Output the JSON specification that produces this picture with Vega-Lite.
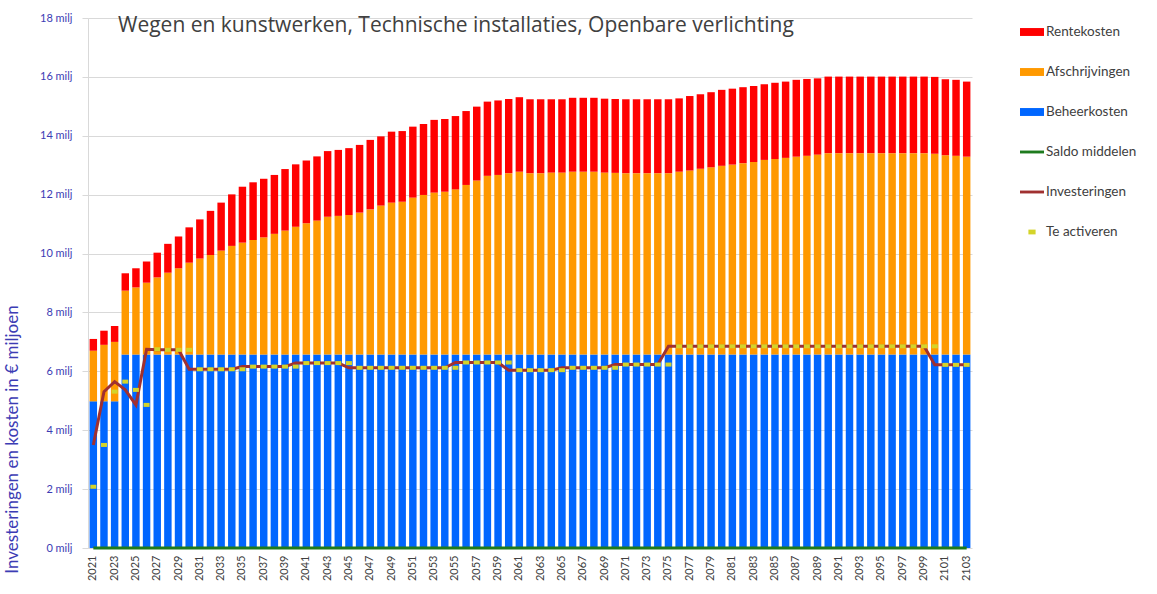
{
  "$schema": "https://vega.github.io/schema/vega-lite/v6.json",
  "width": 884,
  "height": 530,
  "autosize": {"type": "none"},
  "padding": {"left": 88, "top": 18, "right": 185, "bottom": 46},
  "background": "white",
  "config": {
    "font": "Lato",
    "view": {"stroke": null},
    "legend": {"symbolStrokeWidth": 0}
  },
  "title": {
    "text": "Wegen en kunstwerken, Technische installaties, Openbare verlichting",
    "anchor": "start",
    "frame": "group",
    "orient": "top",
    "offset": -24,
    "dx": 30,
    "font": "Open Sans",
    "fontSize": 21,
    "fontWeight": "normal",
    "color": "#404040"
  },
  "data": {
    "values": [
      {"year": 2021, "Beheerkosten": 4.98, "Afschrijvingen": 1.72, "Rentekosten": 0.40, "Investeringen": 3.50, "Te activeren": 2.08, "Saldo middelen": 0},
      {"year": 2022, "Beheerkosten": 4.98, "Afschrijvingen": 1.92, "Rentekosten": 0.48, "Investeringen": 5.31, "Te activeren": 3.50, "Saldo middelen": 0},
      {"year": 2023, "Beheerkosten": 4.98, "Afschrijvingen": 2.02, "Rentekosten": 0.54, "Investeringen": 5.65, "Te activeren": 5.31, "Saldo middelen": 0},
      {"year": 2024, "Beheerkosten": 6.57, "Afschrijvingen": 2.17, "Rentekosten": 0.59, "Investeringen": 5.37, "Te activeren": 5.65, "Saldo middelen": 0},
      {"year": 2025, "Beheerkosten": 6.57, "Afschrijvingen": 2.28, "Rentekosten": 0.65, "Investeringen": 4.86, "Te activeren": 5.37, "Saldo middelen": 0},
      {"year": 2026, "Beheerkosten": 6.57, "Afschrijvingen": 2.44, "Rentekosten": 0.72, "Investeringen": 6.75, "Te activeren": 4.86, "Saldo middelen": 0},
      {"year": 2027, "Beheerkosten": 6.57, "Afschrijvingen": 2.62, "Rentekosten": 0.84, "Investeringen": 6.73, "Te activeren": 6.75, "Saldo middelen": 0},
      {"year": 2028, "Beheerkosten": 6.57, "Afschrijvingen": 2.78, "Rentekosten": 0.98, "Investeringen": 6.73, "Te activeren": 6.73, "Saldo middelen": 0},
      {"year": 2029, "Beheerkosten": 6.57, "Afschrijvingen": 2.93, "Rentekosten": 1.08, "Investeringen": 6.73, "Te activeren": 6.73, "Saldo middelen": 0},
      {"year": 2030, "Beheerkosten": 6.57, "Afschrijvingen": 3.12, "Rentekosten": 1.20, "Investeringen": 6.07, "Te activeren": 6.73, "Saldo middelen": 0},
      {"year": 2031, "Beheerkosten": 6.57, "Afschrijvingen": 3.26, "Rentekosten": 1.33, "Investeringen": 6.07, "Te activeren": 6.07, "Saldo middelen": 0},
      {"year": 2032, "Beheerkosten": 6.57, "Afschrijvingen": 3.38, "Rentekosten": 1.50, "Investeringen": 6.07, "Te activeren": 6.07, "Saldo middelen": 0},
      {"year": 2033, "Beheerkosten": 6.57, "Afschrijvingen": 3.53, "Rentekosten": 1.63, "Investeringen": 6.07, "Te activeren": 6.07, "Saldo middelen": 0},
      {"year": 2034, "Beheerkosten": 6.57, "Afschrijvingen": 3.69, "Rentekosten": 1.75, "Investeringen": 6.07, "Te activeren": 6.07, "Saldo middelen": 0},
      {"year": 2035, "Beheerkosten": 6.57, "Afschrijvingen": 3.80, "Rentekosten": 1.90, "Investeringen": 6.16, "Te activeren": 6.07, "Saldo middelen": 0},
      {"year": 2036, "Beheerkosten": 6.57, "Afschrijvingen": 3.89, "Rentekosten": 1.96, "Investeringen": 6.16, "Te activeren": 6.16, "Saldo middelen": 0},
      {"year": 2037, "Beheerkosten": 6.57, "Afschrijvingen": 3.98, "Rentekosten": 1.99, "Investeringen": 6.16, "Te activeren": 6.16, "Saldo middelen": 0},
      {"year": 2038, "Beheerkosten": 6.57, "Afschrijvingen": 4.10, "Rentekosten": 2.00, "Investeringen": 6.16, "Te activeren": 6.16, "Saldo middelen": 0},
      {"year": 2039, "Beheerkosten": 6.57, "Afschrijvingen": 4.21, "Rentekosten": 2.09, "Investeringen": 6.16, "Te activeren": 6.16, "Saldo middelen": 0},
      {"year": 2040, "Beheerkosten": 6.57, "Afschrijvingen": 4.34, "Rentekosten": 2.12, "Investeringen": 6.28, "Te activeren": 6.16, "Saldo middelen": 0},
      {"year": 2041, "Beheerkosten": 6.57, "Afschrijvingen": 4.46, "Rentekosten": 2.13, "Investeringen": 6.28, "Te activeren": 6.28, "Saldo middelen": 0},
      {"year": 2042, "Beheerkosten": 6.57, "Afschrijvingen": 4.55, "Rentekosten": 2.18, "Investeringen": 6.28, "Te activeren": 6.28, "Saldo middelen": 0},
      {"year": 2043, "Beheerkosten": 6.57, "Afschrijvingen": 4.68, "Rentekosten": 2.23, "Investeringen": 6.28, "Te activeren": 6.28, "Saldo middelen": 0},
      {"year": 2044, "Beheerkosten": 6.57, "Afschrijvingen": 4.71, "Rentekosten": 2.24, "Investeringen": 6.28, "Te activeren": 6.28, "Saldo middelen": 0},
      {"year": 2045, "Beheerkosten": 6.57, "Afschrijvingen": 4.74, "Rentekosten": 2.27, "Investeringen": 6.12, "Te activeren": 6.28, "Saldo middelen": 0},
      {"year": 2046, "Beheerkosten": 6.57, "Afschrijvingen": 4.82, "Rentekosten": 2.30, "Investeringen": 6.12, "Te activeren": 6.12, "Saldo middelen": 0},
      {"year": 2047, "Beheerkosten": 6.57, "Afschrijvingen": 4.93, "Rentekosten": 2.36, "Investeringen": 6.12, "Te activeren": 6.12, "Saldo middelen": 0},
      {"year": 2048, "Beheerkosten": 6.57, "Afschrijvingen": 5.06, "Rentekosten": 2.35, "Investeringen": 6.12, "Te activeren": 6.12, "Saldo middelen": 0},
      {"year": 2049, "Beheerkosten": 6.57, "Afschrijvingen": 5.16, "Rentekosten": 2.41, "Investeringen": 6.12, "Te activeren": 6.12, "Saldo middelen": 0},
      {"year": 2050, "Beheerkosten": 6.57, "Afschrijvingen": 5.19, "Rentekosten": 2.40, "Investeringen": 6.12, "Te activeren": 6.12, "Saldo middelen": 0},
      {"year": 2051, "Beheerkosten": 6.57, "Afschrijvingen": 5.33, "Rentekosten": 2.41, "Investeringen": 6.12, "Te activeren": 6.12, "Saldo middelen": 0},
      {"year": 2052, "Beheerkosten": 6.57, "Afschrijvingen": 5.42, "Rentekosten": 2.41, "Investeringen": 6.12, "Te activeren": 6.12, "Saldo middelen": 0},
      {"year": 2053, "Beheerkosten": 6.57, "Afschrijvingen": 5.50, "Rentekosten": 2.47, "Investeringen": 6.12, "Te activeren": 6.12, "Saldo middelen": 0},
      {"year": 2054, "Beheerkosten": 6.57, "Afschrijvingen": 5.53, "Rentekosten": 2.47, "Investeringen": 6.12, "Te activeren": 6.12, "Saldo middelen": 0},
      {"year": 2055, "Beheerkosten": 6.57, "Afschrijvingen": 5.61, "Rentekosten": 2.49, "Investeringen": 6.30, "Te activeren": 6.12, "Saldo middelen": 0},
      {"year": 2056, "Beheerkosten": 6.57, "Afschrijvingen": 5.76, "Rentekosten": 2.51, "Investeringen": 6.30, "Te activeren": 6.30, "Saldo middelen": 0},
      {"year": 2057, "Beheerkosten": 6.57, "Afschrijvingen": 5.91, "Rentekosten": 2.51, "Investeringen": 6.30, "Te activeren": 6.30, "Saldo middelen": 0},
      {"year": 2058, "Beheerkosten": 6.57, "Afschrijvingen": 6.07, "Rentekosten": 2.52, "Investeringen": 6.30, "Te activeren": 6.30, "Saldo middelen": 0},
      {"year": 2059, "Beheerkosten": 6.57, "Afschrijvingen": 6.10, "Rentekosten": 2.53, "Investeringen": 6.30, "Te activeren": 6.30, "Saldo middelen": 0},
      {"year": 2060, "Beheerkosten": 6.57, "Afschrijvingen": 6.16, "Rentekosten": 2.52, "Investeringen": 6.04, "Te activeren": 6.30, "Saldo middelen": 0},
      {"year": 2061, "Beheerkosten": 6.57, "Afschrijvingen": 6.21, "Rentekosten": 2.53, "Investeringen": 6.04, "Te activeren": 6.04, "Saldo middelen": 0},
      {"year": 2062, "Beheerkosten": 6.57, "Afschrijvingen": 6.16, "Rentekosten": 2.51, "Investeringen": 6.04, "Te activeren": 6.04, "Saldo middelen": 0},
      {"year": 2063, "Beheerkosten": 6.57, "Afschrijvingen": 6.16, "Rentekosten": 2.51, "Investeringen": 6.04, "Te activeren": 6.04, "Saldo middelen": 0},
      {"year": 2064, "Beheerkosten": 6.57, "Afschrijvingen": 6.18, "Rentekosten": 2.49, "Investeringen": 6.04, "Te activeren": 6.04, "Saldo middelen": 0},
      {"year": 2065, "Beheerkosten": 6.57, "Afschrijvingen": 6.18, "Rentekosten": 2.49, "Investeringen": 6.12, "Te activeren": 6.04, "Saldo middelen": 0},
      {"year": 2066, "Beheerkosten": 6.57, "Afschrijvingen": 6.21, "Rentekosten": 2.51, "Investeringen": 6.12, "Te activeren": 6.12, "Saldo middelen": 0},
      {"year": 2067, "Beheerkosten": 6.57, "Afschrijvingen": 6.21, "Rentekosten": 2.51, "Investeringen": 6.12, "Te activeren": 6.12, "Saldo middelen": 0},
      {"year": 2068, "Beheerkosten": 6.57, "Afschrijvingen": 6.21, "Rentekosten": 2.51, "Investeringen": 6.12, "Te activeren": 6.12, "Saldo middelen": 0},
      {"year": 2069, "Beheerkosten": 6.57, "Afschrijvingen": 6.18, "Rentekosten": 2.51, "Investeringen": 6.12, "Te activeren": 6.12, "Saldo middelen": 0},
      {"year": 2070, "Beheerkosten": 6.57, "Afschrijvingen": 6.17, "Rentekosten": 2.51, "Investeringen": 6.23, "Te activeren": 6.12, "Saldo middelen": 0},
      {"year": 2071, "Beheerkosten": 6.57, "Afschrijvingen": 6.16, "Rentekosten": 2.51, "Investeringen": 6.23, "Te activeren": 6.23, "Saldo middelen": 0},
      {"year": 2072, "Beheerkosten": 6.57, "Afschrijvingen": 6.16, "Rentekosten": 2.51, "Investeringen": 6.23, "Te activeren": 6.23, "Saldo middelen": 0},
      {"year": 2073, "Beheerkosten": 6.57, "Afschrijvingen": 6.16, "Rentekosten": 2.51, "Investeringen": 6.23, "Te activeren": 6.23, "Saldo middelen": 0},
      {"year": 2074, "Beheerkosten": 6.57, "Afschrijvingen": 6.16, "Rentekosten": 2.51, "Investeringen": 6.23, "Te activeren": 6.23, "Saldo middelen": 0},
      {"year": 2075, "Beheerkosten": 6.57, "Afschrijvingen": 6.16, "Rentekosten": 2.51, "Investeringen": 6.85, "Te activeren": 6.23, "Saldo middelen": 0},
      {"year": 2076, "Beheerkosten": 6.57, "Afschrijvingen": 6.21, "Rentekosten": 2.49, "Investeringen": 6.85, "Te activeren": 6.85, "Saldo middelen": 0},
      {"year": 2077, "Beheerkosten": 6.57, "Afschrijvingen": 6.25, "Rentekosten": 2.53, "Investeringen": 6.85, "Te activeren": 6.85, "Saldo middelen": 0},
      {"year": 2078, "Beheerkosten": 6.57, "Afschrijvingen": 6.31, "Rentekosten": 2.53, "Investeringen": 6.85, "Te activeren": 6.85, "Saldo middelen": 0},
      {"year": 2079, "Beheerkosten": 6.57, "Afschrijvingen": 6.36, "Rentekosten": 2.55, "Investeringen": 6.85, "Te activeren": 6.85, "Saldo middelen": 0},
      {"year": 2080, "Beheerkosten": 6.57, "Afschrijvingen": 6.41, "Rentekosten": 2.58, "Investeringen": 6.85, "Te activeren": 6.85, "Saldo middelen": 0},
      {"year": 2081, "Beheerkosten": 6.57, "Afschrijvingen": 6.45, "Rentekosten": 2.58, "Investeringen": 6.85, "Te activeren": 6.85, "Saldo middelen": 0},
      {"year": 2082, "Beheerkosten": 6.57, "Afschrijvingen": 6.50, "Rentekosten": 2.58, "Investeringen": 6.85, "Te activeren": 6.85, "Saldo middelen": 0},
      {"year": 2083, "Beheerkosten": 6.57, "Afschrijvingen": 6.54, "Rentekosten": 2.58, "Investeringen": 6.85, "Te activeren": 6.85, "Saldo middelen": 0},
      {"year": 2084, "Beheerkosten": 6.57, "Afschrijvingen": 6.61, "Rentekosten": 2.57, "Investeringen": 6.85, "Te activeren": 6.85, "Saldo middelen": 0},
      {"year": 2085, "Beheerkosten": 6.57, "Afschrijvingen": 6.64, "Rentekosten": 2.59, "Investeringen": 6.85, "Te activeren": 6.85, "Saldo middelen": 0},
      {"year": 2086, "Beheerkosten": 6.57, "Afschrijvingen": 6.68, "Rentekosten": 2.59, "Investeringen": 6.85, "Te activeren": 6.85, "Saldo middelen": 0},
      {"year": 2087, "Beheerkosten": 6.57, "Afschrijvingen": 6.72, "Rentekosten": 2.61, "Investeringen": 6.85, "Te activeren": 6.85, "Saldo middelen": 0},
      {"year": 2088, "Beheerkosten": 6.57, "Afschrijvingen": 6.75, "Rentekosten": 2.61, "Investeringen": 6.85, "Te activeren": 6.85, "Saldo middelen": 0},
      {"year": 2089, "Beheerkosten": 6.57, "Afschrijvingen": 6.79, "Rentekosten": 2.59, "Investeringen": 6.85, "Te activeren": 6.85, "Saldo middelen": 0},
      {"year": 2090, "Beheerkosten": 6.57, "Afschrijvingen": 6.84, "Rentekosten": 2.60, "Investeringen": 6.85, "Te activeren": 6.85, "Saldo middelen": 0},
      {"year": 2091, "Beheerkosten": 6.57, "Afschrijvingen": 6.84, "Rentekosten": 2.60, "Investeringen": 6.85, "Te activeren": 6.85, "Saldo middelen": 0},
      {"year": 2092, "Beheerkosten": 6.57, "Afschrijvingen": 6.84, "Rentekosten": 2.60, "Investeringen": 6.85, "Te activeren": 6.85, "Saldo middelen": 0},
      {"year": 2093, "Beheerkosten": 6.57, "Afschrijvingen": 6.84, "Rentekosten": 2.60, "Investeringen": 6.85, "Te activeren": 6.85, "Saldo middelen": 0},
      {"year": 2094, "Beheerkosten": 6.57, "Afschrijvingen": 6.84, "Rentekosten": 2.60, "Investeringen": 6.85, "Te activeren": 6.85, "Saldo middelen": 0},
      {"year": 2095, "Beheerkosten": 6.57, "Afschrijvingen": 6.84, "Rentekosten": 2.60, "Investeringen": 6.85, "Te activeren": 6.85, "Saldo middelen": 0},
      {"year": 2096, "Beheerkosten": 6.57, "Afschrijvingen": 6.84, "Rentekosten": 2.60, "Investeringen": 6.85, "Te activeren": 6.85, "Saldo middelen": 0},
      {"year": 2097, "Beheerkosten": 6.57, "Afschrijvingen": 6.84, "Rentekosten": 2.60, "Investeringen": 6.85, "Te activeren": 6.85, "Saldo middelen": 0},
      {"year": 2098, "Beheerkosten": 6.57, "Afschrijvingen": 6.84, "Rentekosten": 2.60, "Investeringen": 6.85, "Te activeren": 6.85, "Saldo middelen": 0},
      {"year": 2099, "Beheerkosten": 6.57, "Afschrijvingen": 6.84, "Rentekosten": 2.60, "Investeringen": 6.85, "Te activeren": 6.85, "Saldo middelen": 0},
      {"year": 2100, "Beheerkosten": 6.57, "Afschrijvingen": 6.82, "Rentekosten": 2.61, "Investeringen": 6.22, "Te activeren": 6.85, "Saldo middelen": 0},
      {"year": 2101, "Beheerkosten": 6.57, "Afschrijvingen": 6.77, "Rentekosten": 2.58, "Investeringen": 6.22, "Te activeren": 6.22, "Saldo middelen": 0},
      {"year": 2102, "Beheerkosten": 6.57, "Afschrijvingen": 6.75, "Rentekosten": 2.58, "Investeringen": 6.22, "Te activeren": 6.22, "Saldo middelen": 0},
      {"year": 2103, "Beheerkosten": 6.57, "Afschrijvingen": 6.72, "Rentekosten": 2.55, "Investeringen": 6.22, "Te activeren": 6.22, "Saldo middelen": 0}
    ]
  },
  "encoding": {
    "x": {
      "field": "year",
      "type": "ordinal",
      "scale": {"paddingInner": 0.3, "paddingOuter": 0.15},
      "axis": {
        "values": [2021, 2023, 2025, 2027, 2029, 2031, 2033, 2035, 2037, 2039, 2041, 2043, 2045, 2047, 2049, 2051, 2053, 2055, 2057, 2059, 2061, 2063, 2065, 2067, 2069, 2071, 2073, 2075, 2077, 2079, 2081, 2083, 2085, 2087, 2089, 2091, 2093, 2095, 2097, 2099, 2101, 2103],
        "labelAngle": -90,
        "ticks": false,
        "domain": false,
        "grid": false,
        "labelFontSize": 11,
        "labelColor": "#404040",
        "labelPadding": 7,
        "title": null
      }
    }
  },
  "layer": [
    {
      "transform": [
        {"fold": ["Beheerkosten", "Afschrijvingen", "Rentekosten"], "as": ["series", "value"]},
        {"calculate": "indexof(['Beheerkosten','Afschrijvingen','Rentekosten'], datum.series)", "as": "stackOrder"}
      ],
      "mark": {"type": "bar"},
      "encoding": {
        "y": {
          "field": "value",
          "type": "quantitative",
          "stack": "zero",
          "scale": {"domain": [0, 18], "nice": false},
          "axis": {
            "values": [0, 2, 4, 6, 8, 10, 12, 14, 16, 18],
            "labelExpr": "datum.value + ' milj'",
            "grid": true,
            "gridColor": "#d9d9d9",
            "domainColor": "#d9d9d9",
            "tickColor": "#d9d9d9",
            "tickSize": 6,
            "labelColor": "#3c3cb4",
            "labelFontSize": 11,
            "labelPadding": 10,
            "title": "Investeringen en kosten  in € miljoen",
            "titleColor": "#3c3cb4",
            "titleFontSize": 17,
            "titleFontWeight": "normal",
            "titleX": -67,
            "titleY": 421,
            "titleAlign": "center",
            "titleBaseline": "bottom"
          }
        },
        "color": {
          "field": "series",
          "type": "nominal",
          "scale": {
            "domain": ["Rentekosten", "Afschrijvingen", "Beheerkosten", "Saldo middelen", "Investeringen", "Te activeren"],
            "range": ["#ff0000", "#ff9900", "#0066ff", "#1e7b1e", "#a03030", "#d4d42a"]
          },
          "legend": {
            "orient": "none",
            "legendX": 932,
            "legendY": 2,
            "title": null,
            "labelFontSize": 13.5,
            "labelColor": "#404040",
            "symbolSize": 576,
            "rowPadding": 21,
            "labelOffset": 2
          }
        },
        "order": {"field": "stackOrder", "type": "quantitative"}
      }
    },
    {
      "transform": [
        {"fold": ["Saldo middelen", "Investeringen"], "as": ["series", "value"]}
      ],
      "mark": {"type": "line", "strokeWidth": 3},
      "encoding": {
        "y": {"field": "value", "type": "quantitative", "stack": null},
        "color": {"field": "series", "type": "nominal"}
      }
    },
    {
      "transform": [
        {"fold": ["Te activeren"], "as": ["series", "value"]}
      ],
      "mark": {"type": "point", "filled": true, "opacity": 1, "size": 400},
      "encoding": {
        "y": {"field": "value", "type": "quantitative", "stack": null},
        "color": {"field": "series", "type": "nominal"},
        "shape": {
          "field": "series",
          "type": "nominal",
          "scale": {
            "domain": ["Rentekosten", "Afschrijvingen", "Beheerkosten", "Saldo middelen", "Investeringen", "Te activeren"],
            "range": [
              "M-1,-0.33L1,-0.33L1,0.33L-1,0.33Z",
              "M-1,-0.33L1,-0.33L1,0.33L-1,0.33Z",
              "M-1,-0.33L1,-0.33L1,0.33L-1,0.33Z",
              "M-1,-0.12L1,-0.12L1,0.12L-1,0.12Z",
              "M-1,-0.12L1,-0.12L1,0.12L-1,0.12Z",
              "M-0.3,-0.2L0.3,-0.2L0.3,0.2L-0.3,0.2Z"
            ]
          },
          "legend": {
            "orient": "none",
            "legendX": 932,
            "legendY": 2,
            "title": null,
            "labelFontSize": 13.5,
            "labelColor": "#404040",
            "symbolSize": 576,
            "rowPadding": 21,
            "labelOffset": 2
          }
        }
      }
    }
  ]
}
